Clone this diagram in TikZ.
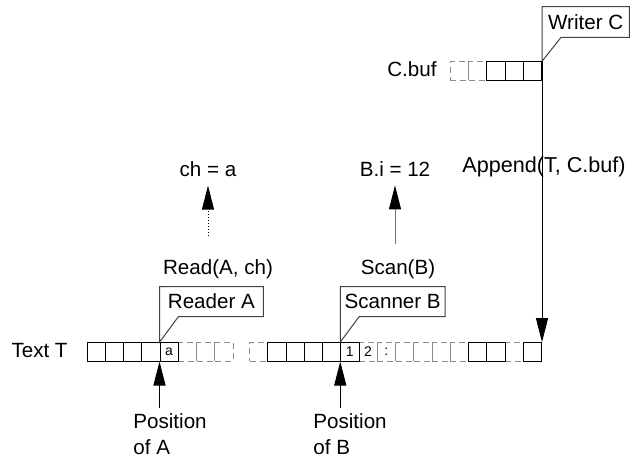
\documentclass[tikz,border=0pt]{standalone}
\usepackage{fontspec}
\setmainfont{Liberation Sans}
\usetikzlibrary{arrows.meta}

\begin{document}
\begin{tikzpicture}[
      x=0.5pt, y=-0.5pt,
      bigarrow/.style={line width=0.5pt, -{Triangle[length=12pt, width=6pt, color=black]}},
      cell/.style={draw, line width=0.5pt, minimum width=9.125pt, minimum height=9.15pt,
                   inner sep=0pt, font=\fontsize{7}{8}\selectfont},
      faint/.style={cell, draw=black!45, densely dashed},
      tag/.style={inner sep=0pt, minimum height=14.5pt, font=\fontsize{10.3}{13}\selectfont},
      callout/.style={draw=black!75, line width=0.5pt},
      lbl/.style={inner sep=0pt, font=\fontsize{10.3}{13}\selectfont}]
    \useasboundingbox (0,0) rectangle (637,461);
    % text T, first part (cells ta1..ta8)
    \foreach \i in {6,7,8}
      \node[faint] (ta\i) at ({87+(\i-0.5)*18.25}, 351.85) {};
    \foreach \i in {1,...,5}
      \node[cell] (ta\i) at ({87+(\i-0.5)*18.25}, 351.85) {};
    \node at (ta5) [font=\fontsize{7}{8}\selectfont] {a};
    % text T, second part (cells tb1..tb16)
    \foreach \i in {1,7,8,9,10,11,12,15}
      \node[faint] (tb\i) at ({249.5+(\i-0.5)*18.25}, 351.85) {};
    \foreach \i in {2,3,4,5,6,13,14,16}
      \node[cell] (tb\i) at ({249.5+(\i-0.5)*18.25}, 351.85) {};
    \node at (tb6) [font=\fontsize{7}{8}\selectfont] {1};
    \node at (tb7) [font=\fontsize{7}{8}\selectfont] {2};
    \node at (tb8) [font=\fontsize{7}{8}\selectfont] {:};
    % buffer of C (cells cb1..cb5)
    \foreach \i in {1,2}
      \node[faint] (cb\i) at ({450.25+(\i-0.5)*18.25}, 71) {};
    \foreach \i in {3,4,5}
      \node[cell] (cb\i) at ({450.25+(\i-0.5)*18.25}, 71) {};
    % pointer positions
    \coordinate (pA) at (ta5.north west);
    \coordinate (pAb) at (ta5.south west);
    \coordinate (pB) at (tb6.north west);
    \coordinate (pBb) at (tb6.south west);
    \coordinate (pC) at (tb16.north east);
    % labels
    \node[lbl, anchor=base east] (textT) at (68,357) {Text T};
    \node[lbl, anchor=base east] (cbuf) at (437,76) {C.buf};
    \node[lbl, anchor=base] (cha) at (208,176) {ch = a};
    \node[lbl, anchor=base] (bi) at (395,176) {B.i = 12};
    \node[lbl, anchor=base west, font=\fontsize{10.8}{13}\selectfont] (app) at (462,172) {Append(T, C.buf)};
    \node[lbl, anchor=base] (read) at (218,274) {Read(A, ch)};
    \node[lbl, anchor=base] (scan) at (398,274) {Scan(B)};
    \node[lbl, anchor=north west, align=left] (posA) at (133,413) {Position\\of A};
    \node[lbl, anchor=north west, align=left] (posB) at (313,413) {Position\\of B};
    % process tags
    \node[tag, anchor=south west, minimum width=51.5pt] (rdr) at ([yshift=12.85pt]pA) {Reader A};
    \node[tag, anchor=south west, minimum width=52pt] (scn) at ([yshift=12.85pt]pB) {Scanner B};
    \node[tag, anchor=south west, minimum width=43.25pt, minimum height=15pt] (wrt)
      at ([yshift=12pt]cb5.north east) {Writer C};
    \draw[callout] (pA) -- (rdr.north west) -- (rdr.north east) -- (rdr.south east)
      -- ([xshift=9.5pt]rdr.south west) -- cycle;
    \draw[callout] (pB) -- (scn.north west) -- (scn.north east) -- (scn.south east)
      -- ([xshift=9.5pt]scn.south west) -- cycle;
    \draw[callout] (cb5.north east) -- (wrt.north west) -- (wrt.north east) -- (wrt.south east)
      -- ([xshift=9.5pt]wrt.south west) -- cycle;
    % arrows
    \draw[bigarrow, densely dotted, shorten <=11.5pt, shorten >=4.5pt] (read.north -| cha.south) -- (cha.south);
    \draw[bigarrow, draw=black!55, shorten <=7.5pt, shorten >=4.5pt] (scan.north -| bi.south) -- (bi.south);
    \draw[bigarrow, shorten <=2.5pt] (posA.north -| pAb) -- (pAb);
    \draw[bigarrow, shorten <=2.5pt] (posB.north -| pBb) -- (pBb);
    \draw[bigarrow] (cb5.north east) -- (pC);
  \end{tikzpicture}
\end{document}
